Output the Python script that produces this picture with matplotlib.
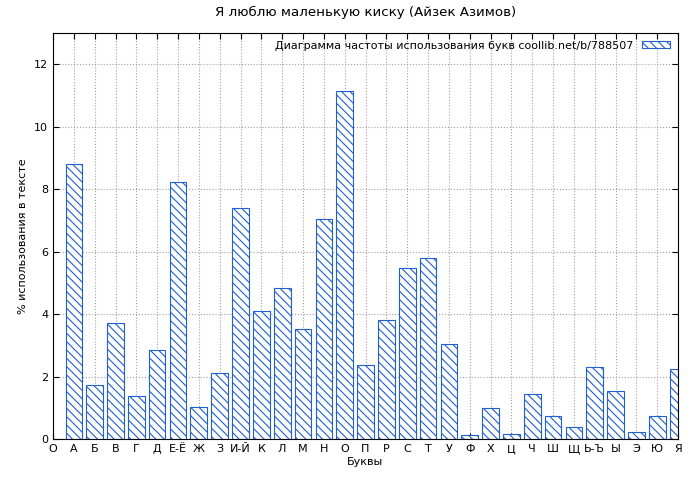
import matplotlib
matplotlib.use("Agg")
import matplotlib.pyplot as plt
import numpy as np

plt.rcParams["font.family"] = ["DejaVu Sans"]
plt.rcParams["font.size"] = 8
plt.rcParams["hatch.color"] = "#1f5fd0"
plt.rcParams["hatch.linewidth"] = 0.8

letters = ["А", "Б", "В", "Г", "Д", "Е-Ё", "Ж", "З", "И-Й", "К", "Л", "М", "Н", "О", "П",
           "Р", "С", "Т", "У", "Ф", "Х", "Ц", "Ч", "Ш", "Щ", "Ь-Ъ", "Ы", "Э", "Ю", "Я"]
freq = [8.8, 1.73, 3.71, 1.38, 2.85, 8.22, 1.02, 2.11, 7.39, 4.1, 4.83, 3.52, 7.04, 11.14, 2.37,
        3.81, 5.47, 5.79, 3.04, 0.13, 0.99, 0.16, 1.44, 0.74, 0.38, 2.3, 1.54, 0.22, 0.74, 2.24]

fig = plt.figure(figsize=(7, 4.8), dpi=100)
ax = fig.add_axes([53 / 700, 41 / 480, 625 / 700, 406 / 480])

x = np.arange(1, len(letters) + 1)
ax.bar(x, freq, width=0.8, facecolor="white", edgecolor="#1f5fd0", linewidth=0.8,
       hatch="\\\\\\\\", label="Диаграмма частоты использования букв coollib.net/b/788507")

ax.set_xlim(0, 30)
ax.set_ylim(0, 13)
ax.set_xticks(np.arange(0, 31))
ax.set_xticklabels(["О"] + letters)
ax.set_yticks(np.arange(0, 13, 2))
ax.grid(True, color="#a0a0a0", linestyle=":", linewidth=0.8)
ax.set_axisbelow(True)
ax.tick_params(direction="in", length=4, top=True, right=True)
ax.set_xlabel("Буквы", labelpad=2)
ax.set_ylabel("% использования в тексте")
ax.set_title("Я люблю маленькую киску (Айзек Азимов)", pad=12)
leg = ax.legend(loc="upper right", frameon=False, markerfirst=False,
                handlelength=2.5, handleheight=0.6, borderaxespad=0.3)
fig.savefig("out.png", dpi=100)
